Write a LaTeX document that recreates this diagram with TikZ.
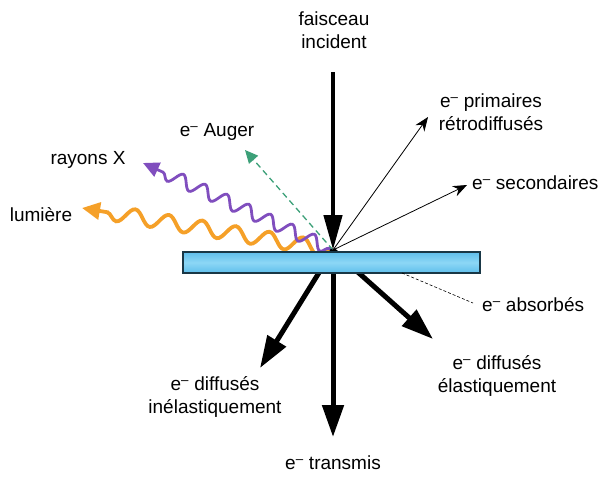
\documentclass[tikz,border=0pt]{standalone}
\usepackage{fontspec}
\setmainfont{Liberation Sans}
\usetikzlibrary{arrows.meta,decorations.pathmorphing}
\newcommand\elec{e\textsuperscript{–}}
\definecolor{xpurple}{RGB}{128,78,190}
\definecolor{xorange}{RGB}{245,160,40}
\definecolor{xgreen}{RGB}{60,160,120}
\definecolor{slabdark}{RGB}{25,55,70}
\definecolor{slabmid}{RGB}{95,190,235}
\definecolor{slablight}{RGB}{140,215,245}
\begin{document}
\begin{tikzpicture}[x=1pt,y=-1pt,
  lbl/.style={font=\fontsize{19}{22.5}\selectfont, align=center, inner sep=0pt},
  bigarrow/.style={line width=5pt, -{Triangle[length=32pt,width=21pt]}},
  thinarrow/.style={line width=0.8pt, -{Stealth[length=14pt,width=11pt]}},
  purplewave/.style={draw=xpurple, line width=2.8pt, decorate,
    decoration={snake, amplitude=6.5pt, segment length=24pt, pre length=4pt, post length=14pt},
    -{Triangle[length=16pt,width=15pt]}},
  orangewave/.style={draw=xorange, line width=3.8pt, decorate,
    decoration={snake, amplitude=7.5pt, segment length=34pt, pre length=4pt, post length=14pt},
    -{Triangle[length=18pt,width=17pt]}},
  slab/.style={draw=slabdark, line width=1.5pt, top color=slabmid, bottom color=slabmid, middle color=slablight}
]
\useasboundingbox (0,0) rectangle (604,480);

% key points
\coordinate (P) at (333,250);
\coordinate (top) at (333,72);
\coordinate (bs) at (428,117);
\coordinate (sec) at (467,185);
\coordinate (aug) at (245,150);
\coordinate (xr) at (143,163);
\coordinate (lum) at (82,208);
\coordinate (inel) at (260,368);
\coordinate (trans) at (333,437);
\coordinate (el) at (433,339);
\coordinate (abs1) at (402,273);
\coordinate (abs2) at (473,303);

% emitted radiation / electrons (above)
\draw[orangewave] (P) -- (lum);
\draw[purplewave] (P) -- (xr);
\draw[xgreen, line width=1.3pt, dashed, dash pattern=on 6pt off 4pt, -{Triangle[length=13pt,width=12pt]}] (P) -- (aug);
\draw[thinarrow] (P) -- (bs);
\draw[thinarrow] (P) -- (sec);

% below
\draw[bigarrow] (P) -- (inel);
\draw[bigarrow] (P) -- (trans);
\draw[bigarrow] (P) -- (el);

% slab
\draw[slab] (183,252) rectangle (480,273);

% absorbed
\draw[line width=0.6pt, dashed, dash pattern=on 3pt off 2pt] (abs1) -- (abs2);

% incident beam
\draw[line width=4.5pt, -{Triangle[length=35pt,width=18pt]}] (top) -- (P);

% labels
\node[lbl] (lincident) at (334,30) {faisceau\\incident};
\node[lbl] (lbs) at (491,112) {\elec{} primaires\\rétrodiffusés};
\node[lbl, anchor=west] (lsec) at (472,183) {\elec{} secondaires};
\node[lbl] (laug) at (217,132) {\elec{} Auger};
\node[lbl] (lxr) at (88,160) {rayons X};
\node[lbl] (llum) at (41,215) {lumière};
\node[lbl, anchor=west] (labs) at (482,305) {\elec{} absorbés};
\node[lbl] (linel) at (215,397) {\elec{} diffusés\\inélastiquement};
\node[lbl] (lel) at (497,376) {\elec{} diffusés\\élastiquement};
\node[lbl] (ltrans) at (333,463) {\elec{} transmis};
\end{tikzpicture}
\end{document}
